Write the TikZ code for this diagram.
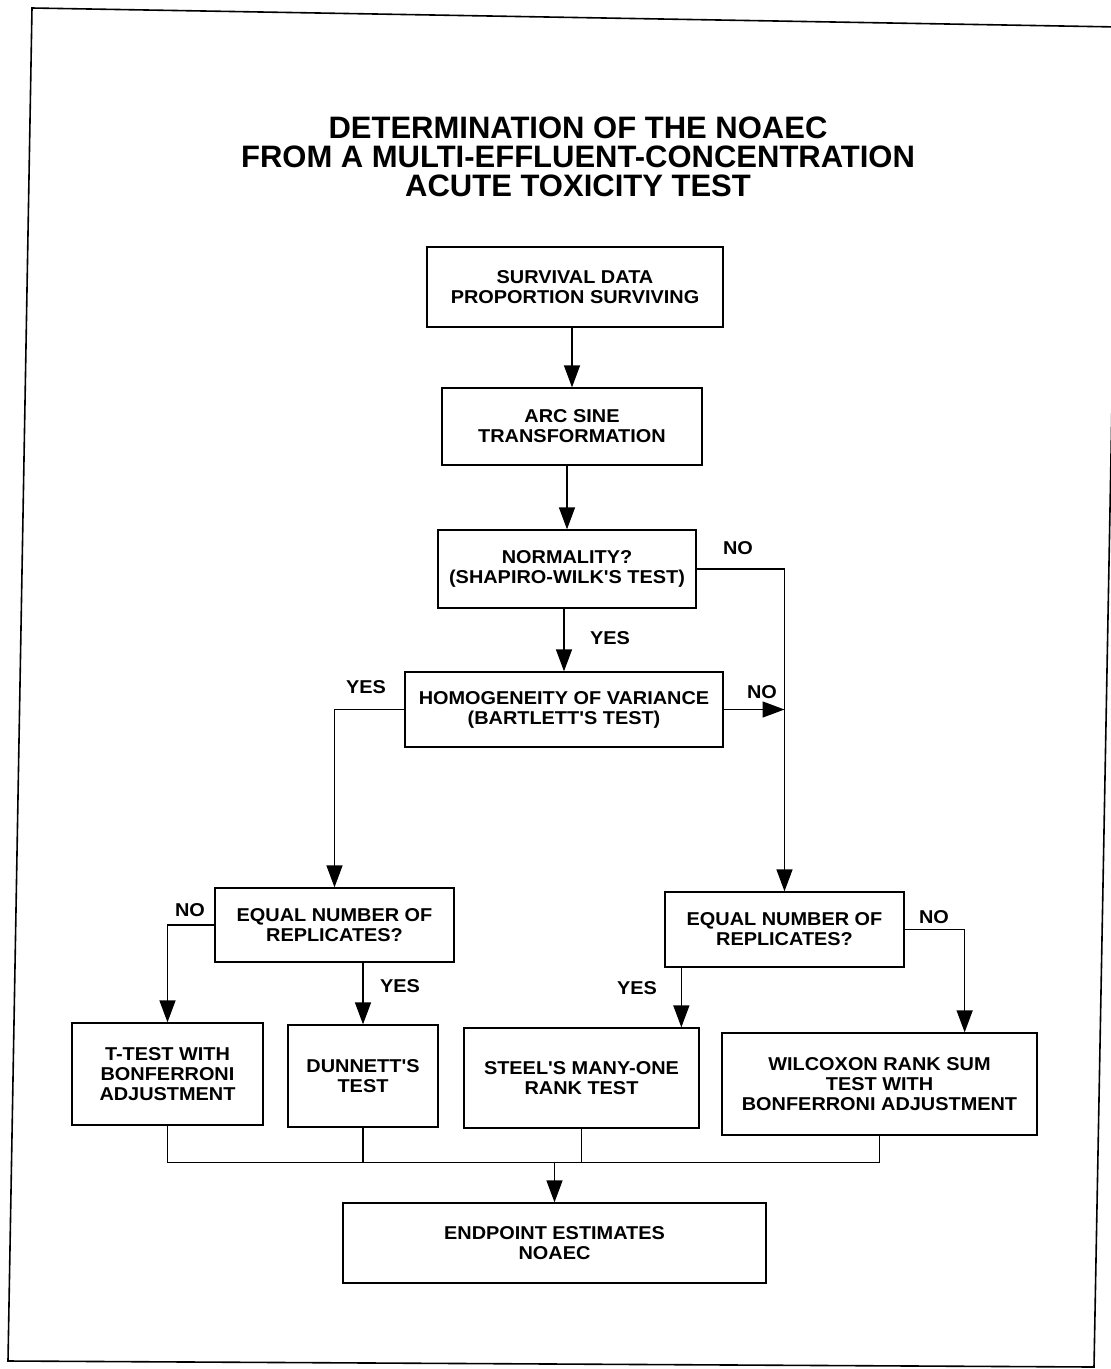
\documentclass[tikz,border=0pt]{standalone}
\usepackage{fontspec}
\newfontfamily\flowfont[FakeStretch=1.07]{Liberation Sans}
\newfontfamily\titlefont{Liberation Sans}
\usetikzlibrary{arrows.meta}

\begin{document}
\begin{tikzpicture}[x=1pt,y=-1pt,line width=1.4pt,
    box/.style={draw,line width=1.3pt,align=center,inner sep=0pt,
        font=\flowfont\bfseries\fontsize{18.6}{20}\selectfont},
    lbl/.style={font=\flowfont\bfseries\fontsize{18.6}{20}\selectfont},
    arr/.style={-{Triangle[length=22pt,width=16pt]}}]
    \useasboundingbox (0,0) rectangle (1111,1369);
    \clip (0,0) rectangle (1111,1369);
    \draw[line width=1.6pt] (32,8) -- (1119,27) -- (1094,1367) -- (8,1361) -- cycle;
    \node[align=center,font=\titlefont\bfseries\fontsize{31}{29}\selectfont] (title) at (578,157)
        {DETERMINATION OF THE NOAEC\\FROM A MULTI-EFFLUENT-CONCENTRATION\\ACUTE TOXICITY TEST};
    % boxes
    \node[box,minimum width=296pt,minimum height=80pt] (surv) at (575,287) {SURVIVAL DATA\\PROPORTION SURVIVING};
    \node[box,minimum width=260pt,minimum height=77pt] (arc) at (572,426.5) {ARC SINE\\TRANSFORMATION};
    \node[box,minimum width=258pt,minimum height=78pt] (norm) at (567,569) {NORMALITY?\\(SHAPIRO-WILK'S TEST)};
    \node[box,minimum width=318pt,minimum height=75pt] (homog) at (564,709.5) {HOMOGENEITY OF VARIANCE\\(BARTLETT'S TEST)};
    \node[box,minimum width=239pt,minimum height=74pt] (eqL) at (334.5,925) {EQUAL NUMBER OF\\REPLICATES?};
    \node[box,minimum width=239pt,minimum height=75pt] (eqR) at (784.5,929.5) {EQUAL NUMBER OF\\REPLICATES?};
    \node[box,minimum width=191pt,minimum height=102pt] (ttest) at (167.5,1074) {T-TEST WITH\\BONFERRONI\\ADJUSTMENT};
    \node[box,minimum width=150pt,minimum height=102pt] (dunn) at (363,1076) {DUNNETT'S\\TEST};
    \node[box,minimum width=235pt,minimum height=100pt] (steel) at (581.5,1078) {STEEL'S MANY-ONE\\RANK TEST};
    \node[box,minimum width=315pt,minimum height=102pt] (wilc) at (879.5,1084) {WILCOXON RANK SUM\\TEST WITH\\BONFERRONI ADJUSTMENT};
    \node[box,minimum width=423pt,minimum height=80pt] (endp) at (554.5,1243) {ENDPOINT ESTIMATES\\NOAEC};
    % labels
    \node[lbl] (noNorm) at (738,548) {NO};
    \node[lbl] (yesNorm) at (610,638) {YES};
    \node[lbl] (noHomog) at (762,692) {NO};
    \node[lbl] (yesHomog) at (366,687) {YES};
    \node[lbl] (noEqL) at (190,910) {NO};
    \node[lbl] (yesEqL) at (400,986) {YES};
    \node[lbl] (noEqR) at (934,917) {NO};
    \node[lbl] (yesEqR) at (637,988) {YES};
    % connectors
    \draw[arr] (arc.north |- surv.south) -- (arc.north);
    \draw[arr] (norm.north |- arc.south) -- (norm.north);
    \draw[arr] (homog.north |- norm.south) -- (homog.north);
    \draw[arr] (norm.east) -| (eqR.north);
    \draw[arr] (homog.east) -- (homog.east -| eqR.north);
    \draw[arr] (homog.west) -| (eqL.north);
    \draw[arr] (eqL.west) -| (ttest.north);
    \draw[arr] (dunn.north |- eqL.south) -- (dunn.north);
    \coordinate (yesR) at ([xshift=17pt]eqR.south west);
    \draw[arr] (yesR) -- (yesR |- steel.north);
    \draw[arr] (eqR.east) -| ([xshift=-73pt]wilc.north east);
    \draw (ttest.south) -- ++(0,37) coordinate (busL) -| (wilc.south);
    \draw (dunn.south) -- (dunn.south |- busL);
    \draw (steel.south) -- (steel.south |- busL);
    \draw[arr] (endp.north |- busL) -- (endp.north);
\end{tikzpicture}
\end{document}
